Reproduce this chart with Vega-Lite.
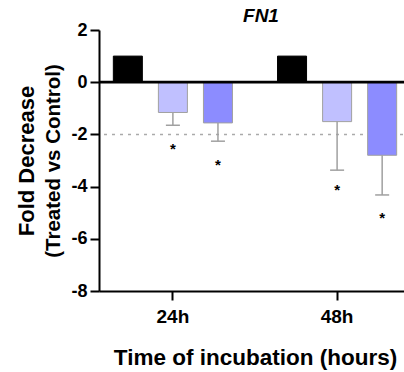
{
  "$schema": "https://vega.github.io/schema/vega-lite/v6.json",
  "width": 312,
  "height": 261,
  "autosize": {"type": "none"},
  "padding": {"left": 99, "top": 30, "right": 0, "bottom": 81},
  "background": "white",
  "config": {
    "view": {"stroke": null},
    "font": "Liberation Sans"
  },
  "title": {
    "text": "FN1",
    "fontSize": 19,
    "fontWeight": "bold",
    "fontStyle": "italic",
    "font": "Liberation Sans",
    "color": "black",
    "anchor": "middle",
    "dx": 6,
    "offset": -5
  },
  "datasets": {
    "bars": [
      {"time": "24h", "group": "Control", "value": 1, "low": 1, "star": null},
      {"time": "24h", "group": "T1", "value": -1.16, "low": -1.65, "star": -2.38},
      {"time": "24h", "group": "T2", "value": -1.56, "low": -2.26, "star": -2.99},
      {"time": "48h", "group": "Control", "value": 1, "low": 1, "star": null},
      {"time": "48h", "group": "T1", "value": -1.51, "low": -3.37, "star": -3.93},
      {"time": "48h", "group": "T2", "value": -2.8, "low": -4.32, "star": -5.02}
    ],
    "refs": [{"y": -2}],
    "zero": [{"y": 0}]
  },
  "layer": [
    {
      "data": {"name": "refs"},
      "mark": {"type": "rule", "stroke": "#AAAAAA", "strokeWidth": 1.5, "strokeDash": [3, 5]},
      "encoding": {
        "y": {
          "field": "y",
          "type": "quantitative",
          "scale": {"domain": [-8, 2], "nice": false},
          "axis": {
            "orient": "left",
            "values": [-8, -6, -4, -2, 0, 2],
            "labelExpr": "datum.value < 0 ? '-' + abs(datum.value) : '' + datum.value",
            "title": "(Treated vs Control)",
            "titleFontSize": 20.5,
            "titleFontWeight": "bold",
            "titleColor": "black",
            "titlePadding": 7,
            "labelFontSize": 18,
            "labelFontWeight": "bold",
            "labelColor": "black",
            "labelPadding": 3,
            "domainColor": "black",
            "domainWidth": 2,
            "tickColor": "black",
            "tickWidth": 2,
            "tickSize": 9,
            "grid": false
          }
        }
      }
    },
    {
      "data": {"name": "bars"},
      "layer": [
        {
          "mark": {"type": "bar", "stroke": "#A0A0A0", "strokeWidth": 1},
          "encoding": {
            "y": {"field": "value", "type": "quantitative", "axis": null},
            "y2": {"datum": 0},
            "fill": {
              "field": "group",
              "type": "nominal",
              "scale": {"domain": ["Control", "T1", "T2"], "range": ["#000000", "#C0C0FF", "#8C8CFF"]},
              "legend": null
            },
            "stroke": {
              "field": "group",
              "type": "nominal",
              "scale": {"domain": ["Control", "T1", "T2"], "range": ["#000000", "#A0A0A0", "#A0A0A0"]},
              "legend": null
            }
          }
        },
        {
          "transform": [{"filter": "datum.group !== 'Control'"}],
          "mark": {"type": "rule", "stroke": "#A0A0A0", "strokeWidth": 1.5},
          "encoding": {
            "y": {"field": "value", "type": "quantitative", "axis": null},
            "y2": {"field": "low"}
          }
        },
        {
          "transform": [{"filter": "datum.group !== 'Control'"}],
          "mark": {"type": "tick", "color": "#A0A0A0", "size": 14, "thickness": 1.5, "opacity": 1},
          "encoding": {
            "y": {"field": "low", "type": "quantitative", "axis": null}
          }
        },
        {
          "transform": [{"filter": "datum.star !== null"}],
          "mark": {"type": "text", "text": "*", "fontSize": 15, "fontWeight": "bold", "color": "black", "baseline": "middle", "dy": 5},
          "encoding": {
            "y": {"field": "star", "type": "quantitative", "axis": null}
          }
        }
      ],
      "encoding": {
        "x": {
          "field": "time",
          "type": "nominal",
          "sort": ["24h", "48h"],
          "scale": {"paddingInner": 0.1, "paddingOuter": 0},
          "axis": {
            "title": "Time of incubation (hours)",
            "titleFontSize": 22.5,
            "titleFontWeight": "bold",
            "titleColor": "black",
            "titlePadding": 20,
            "labelFontSize": 19,
            "labelFontWeight": "bold",
            "labelColor": "black",
            "labelAngle": 0,
            "labelPadding": 7,
            "domainColor": "black",
            "domainWidth": 2,
            "tickColor": "black",
            "tickWidth": 2,
            "tickSize": 9
          }
        },
        "xOffset": {
          "field": "group",
          "type": "nominal",
          "sort": ["Control", "T1", "T2"],
          "scale": {"paddingInner": 0.356, "paddingOuter": 0.318}
        }
      }
    },
    {
      "data": {"name": "zero"},
      "mark": {"type": "rule", "stroke": "black", "strokeWidth": 2.7},
      "encoding": {
        "y": {
          "field": "y",
          "type": "quantitative",
          "axis": {
            "orient": "left",
            "offset": 61,
            "title": "Fold Decrease",
            "titleFontSize": 22,
            "titleFontWeight": "bold",
            "titleColor": "black",
            "titlePadding": 0,
            "labels": false,
            "ticks": false,
            "domain": false,
            "grid": false
          }
        }
      }
    }
  ],
  "resolve": {"scale": {"y": "shared"}, "axis": {"y": "independent"}}
}
